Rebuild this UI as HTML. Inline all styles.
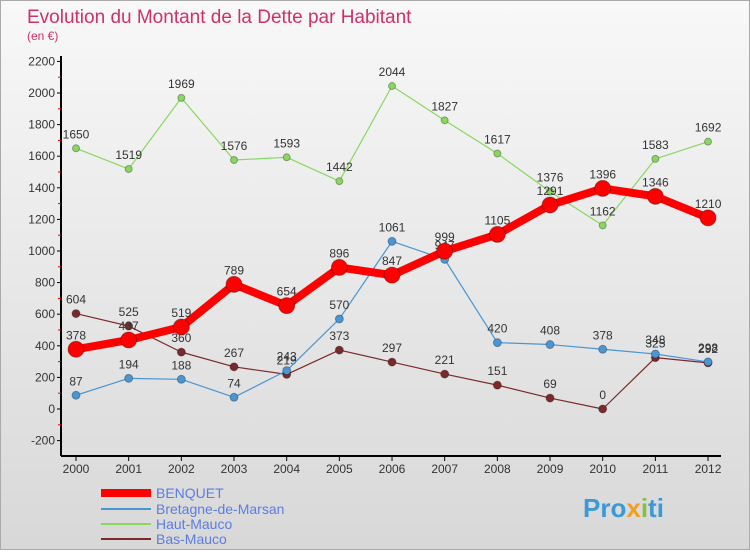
<!DOCTYPE html>
<html><head><meta charset="utf-8"><style>
body{margin:0;width:750px;height:550px;overflow:hidden;font-family:"Liberation Sans",sans-serif}
#wrap{position:relative;width:748px;height:548px;border:1px solid #aaa;background:linear-gradient(#f8f8f8,#d8d8d8)}
</style></head><body>
<div id="wrap">
<svg id="svg" width="748" height="548" xmlns="http://www.w3.org/2000/svg">
<text x="26" y="22" font-size="19" fill="#d0306a">Evolution du Montant de la Dette par Habitant</text>
<text x="26" y="39" font-size="12" fill="#d0306a">(en €)</text>
<g id="axes"></g><g id="series"></g>
<g>
<line x1="100" y1="492" x2="150" y2="492" stroke="#f00" stroke-width="8"/>
<text x="155" y="497" font-size="14" fill="#5b7de0">BENQUET</text>
<line x1="100" y1="508" x2="150" y2="508" stroke="#4a96d4" stroke-width="2"/>
<text x="155" y="513" font-size="14" fill="#5b7de0">Bretagne-de-Marsan</text>
<line x1="100" y1="523" x2="150" y2="523" stroke="#88d860" stroke-width="2"/>
<text x="155" y="528" font-size="14" fill="#5b7de0">Haut-Mauco</text>
<line x1="100" y1="538" x2="150" y2="538" stroke="#7a2a2a" stroke-width="2"/>
<text x="155" y="543" font-size="14" fill="#5b7de0">Bas-Mauco</text>
</g>
<text x="582" y="516" font-size="26" font-weight="bold" fill="#3a9ad8">Pro<tspan fill="#f0a020">x</tspan><tspan fill="#88c040">i</tspan>ti</text>
</svg></div>
<script>
const years=[2000,2001,2002,2003,2004,2005,2006,2007,2008,2009,2010,2011,2012];
const yTicks=[-200,0,200,400,600,800,1000,1200,1400,1600,1800,2000,2200];
const benquet=[378,437,519,789,654,896,847,999,1105,1291,1396,1346,1210];
const bretagne=[87,194,188,74,243,570,1061,947,420,408,378,348,298];
const hautMauco=[1650,1519,1969,1576,1593,1442,2044,1827,1617,1376,1162,1583,1692];
const basMauco=[604,525,360,267,219,373,297,221,151,69,0,325,292];
const NS="http://www.w3.org/2000/svg";
const X=i=>75+i*52.67, Y=v=>408-v*0.158;
function mk(t,a,p){const e=document.createElementNS(NS,t);for(const k in a)e.setAttribute(k,a[k]);p.appendChild(e);return e;}
const ax=document.getElementById('axes'), sg=document.getElementById('series');
let l=mk('line',{x1:60,y1:55,x2:60,y2:455,stroke:'#000','stroke-width':2},ax);


l=mk('line',{x1:60,y1:455,x2:720,y2:455,stroke:'#000','stroke-width':2},ax);


yTicks.forEach((v,k)=>{
 mk('line',{x1:56,y1:Y(v),x2:60,y2:Y(v),stroke:'#000'},ax);
 if(k<yTicks.length-1) mk('line',{x1:57,y1:Y(v+100),x2:60,y2:Y(v+100),stroke:'#e00'},ax);
 const t=mk('text',{x:54,y:Y(v)+4,'font-size':12,'text-anchor':'end',fill:'#333'},ax);t.textContent=v;
 
 
});
years.forEach((yr,i)=>{
 mk('line',{x1:X(i),y1:455,x2:X(i),y2:460,stroke:'#000'},ax);
 const t=mk('text',{x:X(i),y:472,'font-size':12,'text-anchor':'middle',fill:'#333'},ax);t.textContent=yr;
 
 
});
function series(d,color,w,r,name){
 const g=mk('g',{},sg);
 
 
 mk('polyline',{points:d.map((v,i)=>X(i)+','+Y(v)).join(' '),fill:'none',stroke:color,'stroke-width':w,'stroke-linejoin':'round'},g);
 d.forEach((v,i)=>{
  const c=mk('circle',{cx:X(i),cy:Y(v),r:r,fill:color,stroke:'rgba(0,0,0,0.3)','stroke-width':1},g);
  
  
  const t=mk('text',{x:X(i),y:Y(v)-10,'font-size':12,'text-anchor':'middle',fill:'#333'},g);t.textContent=v;
  
  
 });
}
series(hautMauco,'#88d860',1.2,3.5,'haut-mauco');
series(basMauco,'#7a2a2a',1.2,4,'bas-mauco');
series(bretagne,'#4a96d4',1.2,4,'bretagne');
series(benquet,'#f00',8,8,'benquet');
</script></body></html>
